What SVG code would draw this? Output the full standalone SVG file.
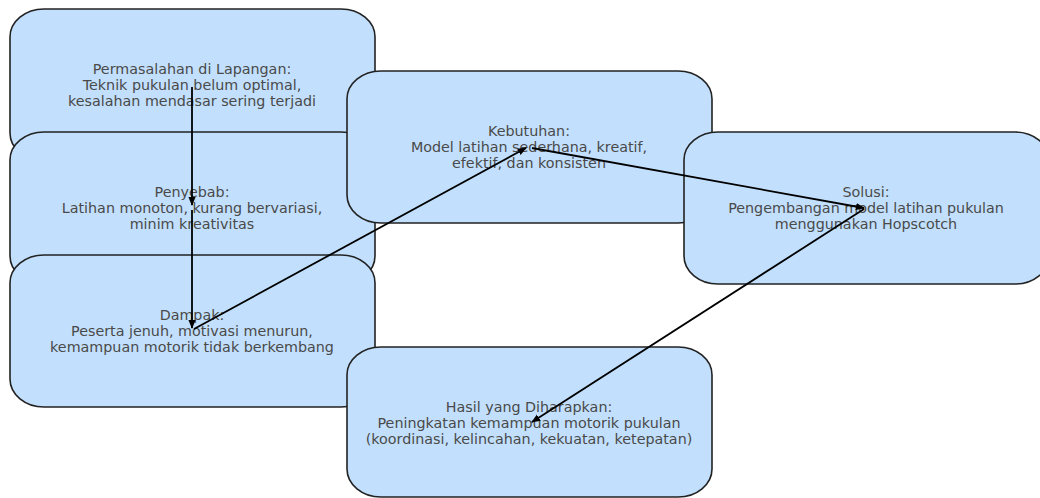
<svg xmlns="http://www.w3.org/2000/svg" width="1040" height="498" viewBox="0 0 1040 498">
  <style>
    .box { fill: #c2e0fd; stroke: #222222; stroke-width: 1.6; }
    .lbl { font-family: "DejaVu Sans", "Liberation Sans", sans-serif; font-size: 14.3px; fill: #4a4a4a; text-anchor: middle; }
    .edge { stroke: #000000; stroke-width: 1.8; fill: none; marker-end: url(#head); }
  </style>
  <defs>
    <marker id="head" viewBox="0 0 10 10" refX="9" refY="5" markerWidth="5" markerHeight="5" markerUnits="strokeWidth" orient="auto">
      <path d="M0,1 L10,5 L0,9 z" fill="#000000"/>
    </marker>
  </defs>

  <g id="permasalahan">
    <rect class="box" x="10" y="9" width="365" height="152" rx="34" ry="28"/>
    <text class="lbl" x="192" y="74">Permasalahan di Lapangan:</text>
    <text class="lbl" x="192" y="90">Teknik pukulan belum optimal,</text>
    <text class="lbl" x="192" y="106">kesalahan mendasar sering terjadi</text>
  </g>

  <g id="penyebab">
    <rect class="box" x="10" y="132" width="365" height="152" rx="34" ry="28"/>
    <text class="lbl" x="192" y="197">Penyebab:</text>
    <text class="lbl" x="192" y="213">Latihan monoton, kurang bervariasi,</text>
    <text class="lbl" x="192" y="229">minim kreativitas</text>
  </g>

  <g id="dampak">
    <rect class="box" x="10" y="255" width="365" height="152" rx="34" ry="28"/>
    <text class="lbl" x="192" y="320">Dampak:</text>
    <text class="lbl" x="192" y="336">Peserta jenuh, motivasi menurun,</text>
    <text class="lbl" x="192" y="352">kemampuan motorik tidak berkembang</text>
  </g>

  <g id="kebutuhan">
    <rect class="box" x="347" y="71" width="365" height="152" rx="34" ry="28"/>
    <text class="lbl" x="529" y="136">Kebutuhan:</text>
    <text class="lbl" x="529" y="152">Model latihan sederhana, kreatif,</text>
    <text class="lbl" x="529" y="168">efektif, dan konsisten</text>
  </g>

  <g id="solusi">
    <rect class="box" x="684" y="132" width="365" height="152" rx="34" ry="28"/>
    <text class="lbl" x="866" y="197">Solusi:</text>
    <text class="lbl" x="866" y="213">Pengembangan model latihan pukulan</text>
    <text class="lbl" x="866" y="229">menggunakan Hopscotch</text>
  </g>

  <g id="hasil">
    <rect class="box" x="347" y="347" width="365" height="150" rx="34" ry="28"/>
    <text class="lbl" x="529" y="412">Hasil yang Diharapkan:</text>
    <text class="lbl" x="529" y="428">Peningkatan kemampuan motorik pukulan</text>
    <text class="lbl" x="529" y="444">(koordinasi, kelincahan, kekuatan, ketepatan)</text>
  </g>

  <g id="connectors">
    <line class="edge" x1="192" y1="87" x2="192" y2="205"/>
    <line class="edge" x1="192" y1="210" x2="192" y2="328"/>
    <line class="edge" x1="194" y1="329" x2="526" y2="148"/>
    <line class="edge" x1="532" y1="148" x2="864" y2="208"/>
    <line class="edge" x1="864" y1="209" x2="532" y2="422"/>
  </g>
</svg>
